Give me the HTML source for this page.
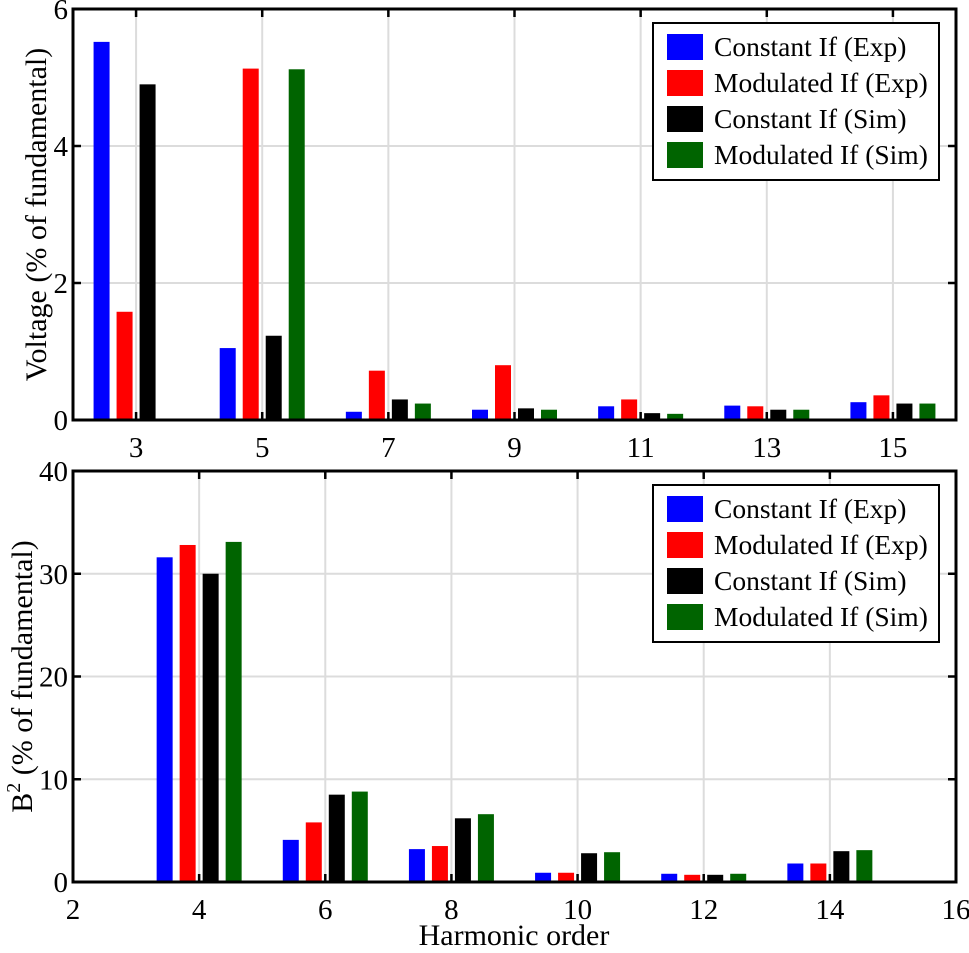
<!DOCTYPE html>
<html><head><meta charset="utf-8">
<style>
body{margin:0;background:#fff;}
svg{display:block;font-family:"Liberation Serif",serif;}
</style></head>
<body>
<svg id="chart" width="969" height="953" xmlns="http://www.w3.org/2000/svg"></svg>
<script>
const seriesNames = ["Constant If (Exp)","Modulated If (Exp)","Constant If (Sim)","Modulated If (Sim)"];
const seriesColors = ["#0000ff","#ff0000","#000000","#006400"];
const topCategories = [3,5,7,9,11,13,15];
const topConstExp = [5.52,1.05,0.12,0.15,0.2,0.21,0.26];
const topModExp = [1.58,5.13,0.72,0.8,0.3,0.2,0.36];
const topConstSim = [4.9,1.23,0.3,0.17,0.1,0.15,0.24];
const topModSim = [0,5.12,0.24,0.15,0.09,0.15,0.24];
const topYTicks = [0,2,4,6];
const botCategories = [4,6,8,10,12,14];
const botConstExp = [31.6,4.1,3.2,0.9,0.8,1.8];
const botModExp = [32.8,5.8,3.5,0.9,0.7,1.8];
const botConstSim = [30,8.5,6.2,2.8,0.7,3.0];
const botModSim = [33.1,8.8,6.6,2.9,0.8,3.1];
const botYTicks = [0,10,20,30,40];
const botXTicks = [2,4,6,8,10,12,14,16];

const NS="http://www.w3.org/2000/svg";
const svg=document.getElementById('chart');
function mk(tag,attrs,parent,text){const e=document.createElementNS(NS,tag);for(const k in attrs)e.setAttribute(k,attrs[k]);if(text!==undefined)e.textContent=text;(parent||svg).appendChild(e);return e;}

const X0=73,X1=956;
const xs=v=>X0+(v-2)/14*(X1-X0);

function panel(cfg){
  const g=mk('g',{});
  
  
  const ys=v=>cfg.yb-(v-cfg.ymin)/(cfg.ymax-cfg.ymin)*(cfg.yb-cfg.yt);
  cfg.xgrid.forEach(v=>{const l=mk('line',{x1:xs(v),x2:xs(v),y1:cfg.yt,y2:cfg.yb,stroke:'#dcdcdc','stroke-width':2},g);});
  cfg.yTicks.forEach(v=>{if(v>cfg.ymin&&v<cfg.ymax){const l=mk('line',{x1:X0,x2:X1,y1:ys(v),y2:ys(v),stroke:'#dcdcdc','stroke-width':2},g);}});
  const offs=[-34.5,-11.5,11.5,34.5];
  cfg.series.forEach((arr,si)=>{
    arr.forEach((v,i)=>{
      if(v<=0)return;
      const cx=xs(cfg.cats[i])+offs[si];
      const r=mk('rect',{x:cx-8,y:ys(v),width:16,height:ys(cfg.ymin)-ys(v),fill:seriesColors[si]},g);
      
      
    });
  });
  cfg.xgrid.forEach(v=>{
    mk('line',{x1:xs(v),x2:xs(v),y1:cfg.yb,y2:cfg.yb-8,stroke:'#000','stroke-width':2.5},g);
    mk('line',{x1:xs(v),x2:xs(v),y1:cfg.yt,y2:cfg.yt+8,stroke:'#000','stroke-width':2.5},g);
  });
  cfg.yTicks.forEach(v=>{
    mk('line',{x1:X0,x2:X0+8,y1:ys(v),y2:ys(v),stroke:'#000','stroke-width':2.5},g);
    mk('line',{x1:X1,x2:X1-8,y1:ys(v),y2:ys(v),stroke:'#000','stroke-width':2.5},g);
    const t=mk('text',{x:X0-5,y:ys(v)+10,'text-anchor':'end','font-size':29},g,String(v));
    
  });
  cfg.xLabels.forEach(v=>{
    const t=mk('text',{x:xs(v),y:cfg.yb+37,'text-anchor':'middle','font-size':29},g,String(v));
    
  });
  const fr=mk('rect',{x:X0,y:cfg.yt,width:X1-X0,height:cfg.yb-cfg.yt,fill:'none',stroke:'#000','stroke-width':3},g);
  
  const yt=mk('text',{x:0,y:0,transform:`translate(${cfg.ylx},${(cfg.yt+cfg.yb)/2}) rotate(-90)`,'text-anchor':'middle','font-size':30},g);
  
  if(cfg.b2){mk('tspan',{},yt,'B');mk('tspan',{dy:-12,'font-size':20},yt,'2');mk('tspan',{dy:12},yt,' (% of fundamental)');}
  else yt.textContent='Voltage (% of fundamental)';
  const lg=mk('g',{},g);
  
  mk('rect',{x:653,y:cfg.yt+14,width:286,height:157,fill:'#fff',stroke:'#000','stroke-width':2},lg);
  seriesNames.forEach((n,i)=>{
    const cy=cfg.yt+38+i*36;
    const e=mk('g',{},lg);
    
    mk('rect',{x:667,y:cy-13,width:36,height:26,fill:seriesColors[i]},e);
    mk('text',{x:714,y:cy+9,'font-size':27.5},e,n);
  });
}

panel({name:'voltage-panel',short:'v',yt:9,yb:420,ymin:0,ymax:6,yTicks:topYTicks,cats:topCategories,
  xgrid:topCategories,xLabels:topCategories,series:[topConstExp,topModExp,topConstSim,topModSim],ylx:46,b2:false});
panel({name:'b2-panel',short:'b',yt:471,yb:882,ymin:0,ymax:40,yTicks:botYTicks,cats:botCategories,
  xgrid:botCategories,xLabels:botXTicks,series:[botConstExp,botModExp,botConstSim,botModSim],ylx:32,b2:true});
const xt=mk('text',{x:514,y:945,'text-anchor':'middle','font-size':30},svg,'Harmonic order');


</script>
</body></html>
